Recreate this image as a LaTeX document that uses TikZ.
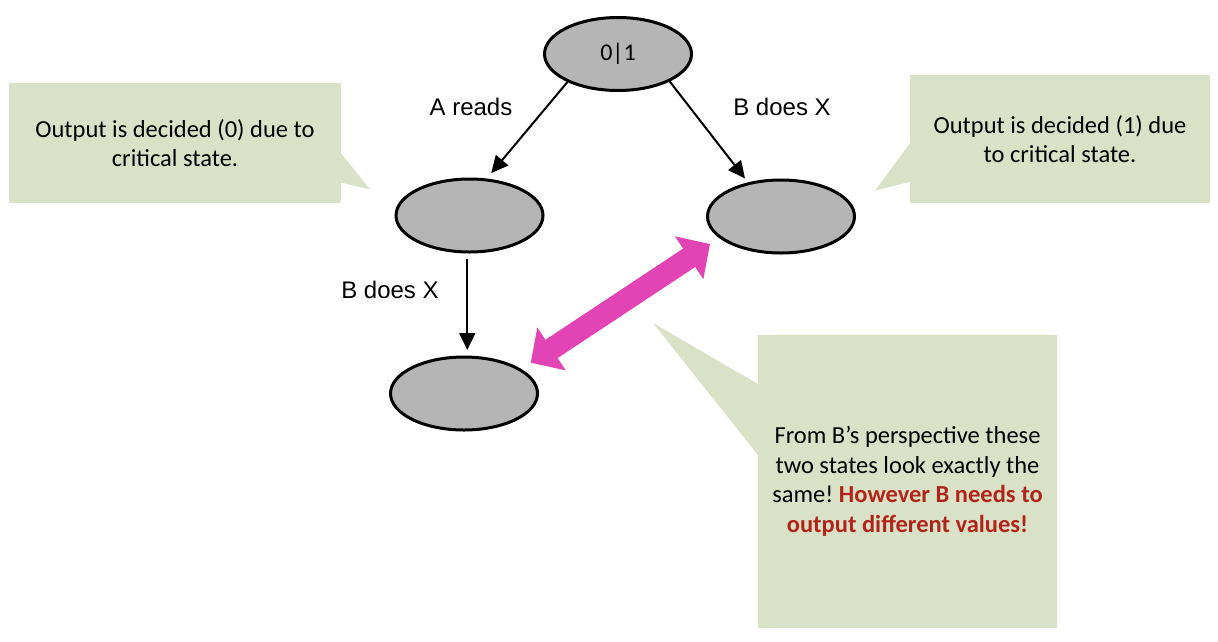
\documentclass[tikz,border=0pt]{standalone}
\usepackage{fontspec}
\setmainfont{Liberation Sans}
\newfontfamily\calib{Carlito}
\usetikzlibrary{arrows.meta,shapes.geometric,calc}
\frenchspacing
\definecolor{stategray}{HTML}{B5B5B5}
\definecolor{calloutgreen}{HTML}{D9E1C6}
\definecolor{pinkarrow}{HTML}{E244B5}
\definecolor{darkred}{HTML}{B0251B}
\tikzset{
  state/.style={ellipse, draw=black, line width=3pt, fill=stategray,
    minimum width=147pt, minimum height=73pt, inner sep=0pt,
    font=\calib\fontsize{24}{29}\selectfont},
  lbl/.style={font=\fontsize{24}{28}\selectfont, inner sep=0pt},
  callout/.style={rectangle, fill=calloutgreen, inner sep=0pt, align=center,
    font=\calib\fontsize{24.5}{29.5}\selectfont},
  calloutfill/.style={fill=calloutgreen},
  arr/.style={line width=2pt, -{Triangle[length=17pt,width=16pt]}},
  dbl/.style={pinkarrow, line width=22pt,
    {Triangle[length=25pt,width=50pt]}-{Triangle[length=25pt,width=50pt]}}
}
\begin{document}
\begin{tikzpicture}[x=1pt,y=-1pt]
\useasboundingbox (0,0) rectangle (1218,641);
% callouts
\node[callout, minimum width=332pt, minimum height=120pt] (cl) at (175,143)
  {Output is decided (0) due to\\critical state.};
\fill[calloutfill] (341,153.3) -- (370,189.3) -- (341,182.7) -- cycle;
\node[callout, minimum width=300pt, minimum height=128pt] (cr) at (1060,139)
  {Output is decided (1) due\\to critical state.};
\fill[calloutfill] (910,143.3) -- (875,190.7) -- (910,181.7) -- cycle;
\node[callout, minimum width=299pt, minimum height=293pt] (cb) at (907.5,481.5)
  {From B’s perspective these\\two states look exactly the\\same! \textcolor{darkred}{\bfseries However B needs to}\\\textcolor{darkred}{\bfseries output different values!}};
\fill[calloutfill] (758,384) -- (653,323) -- (758,455) -- cycle;
% states
\node[state] (top) at (618,54) {0|1};
\node[state] (ml) at (469.5,215.5) {};
\node[state] (mr) at (781,216.5) {};
\node[state] (bot) at (464,393.5) {};
% labels
\node[lbl] (la) at (471,106.5) {A reads};
\node[lbl] (lb) at (782,106.5) {B does X};
\node[lbl] (lc) at (390,290) {B does X};
% arrows
\draw[arr, shorten >=7pt] (top.209) -- (ml.65);
\draw[arr, shorten >=5pt] (top.332) -- (mr.134);
\draw[arr, shorten <=5pt, shorten >=5.5pt] ([xshift=-2.2pt]ml.south) -- ([xshift=3.3pt]bot.north);
% double arrow
\coordinate (dA) at (530.7,362.7);
\coordinate (dB) at (710,244);
\draw[dbl] (dA) -- (dB);
\end{tikzpicture}
\end{document}
